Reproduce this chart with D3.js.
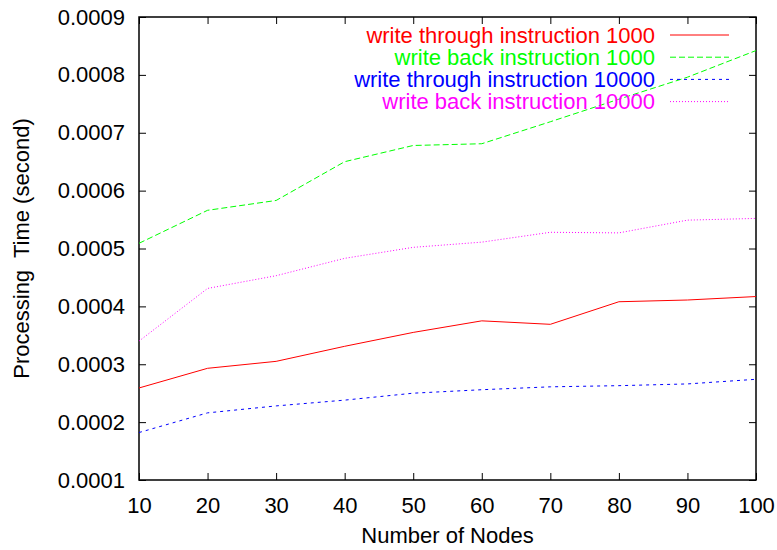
<!DOCTYPE html>
<html>
<head>
<meta charset="utf-8">
<script src="https://cdn.jsdelivr.net/npm/d3@7"></script>
<style>
  body { margin: 0; background: white; }
  text { font-family: "Liberation Sans", Arial, sans-serif; }
</style>
</head>
<body>
<div id="chart"></div>
<script>
let width = 777
let height = 550
let margin = {top: 17, right: 21, bottom: 70, left: 139}

// data
let nodes = [10, 20, 30, 40, 50, 60, 70, 80, 90, 100]
let wtInst1000 = [0.000259, 0.000293, 0.000305, 0.000331, 0.000355, 0.000375, 0.000369, 0.000408, 0.000411, 0.000417]
let wbInst1000 = [0.000509, 0.000566, 0.000583, 0.000650, 0.000678, 0.000681, 0.000719, 0.000758, 0.000796, 0.000842]
let wtInst10000 = [0.000182, 0.000216, 0.000228, 0.000238, 0.000250, 0.000256, 0.000261, 0.000263, 0.000266, 0.000274]
let wbInst10000 = [0.000340, 0.000431, 0.000453, 0.000483, 0.000502, 0.000511, 0.000528, 0.000527, 0.000549, 0.000552]
let yTicks = [0.0001, 0.0002, 0.0003, 0.0004, 0.0005, 0.0006, 0.0007, 0.0008, 0.0009]

let series = [
    {name: "write through instruction 1000", values: wtInst1000, color: "#ff0000", dash: null},
    {name: "write back instruction 1000", values: wbInst1000, color: "#00ff00", dash: "6,3"},
    {name: "write through instruction 10000", values: wtInst10000, color: "#0000ff", dash: "3,4"},
    {name: "write back instruction 10000", values: wbInst10000, color: "#ff00ff", dash: "1,2"}
]

let svg = d3.select("#chart")
    .append("svg")
    .attr("width", width)
    .attr("height", height)

let x = d3.scaleLinear()
    .domain([10, 100])
    .range([margin.left, width - margin.right])
let y = d3.scaleLinear()
    .domain([0.0001, 0.0009])
    .range([height - margin.bottom, margin.top])

let tickLen = 7
let font = 22

// 坐標軸 (ticks inward, mirrored on top/right)
let gx = svg.append("g").attr("transform", `translate(0,${height - margin.bottom})`)
    .call(d3.axisBottom(x).tickValues(nodes).tickSize(-tickLen).tickPadding(tickLen + 10))
let gxTop = svg.append("g").attr("transform", `translate(0,${margin.top})`)
    .call(d3.axisTop(x).tickValues(nodes).tickSize(-tickLen).tickFormat(""))
let gy = svg.append("g").attr("transform", `translate(${margin.left},0)`)
    .call(d3.axisLeft(y).tickValues(yTicks).tickSize(-tickLen).tickPadding(tickLen + 7).tickFormat(d3.format(".4f")))
let gyRight = svg.append("g").attr("transform", `translate(${width - margin.right},0)`)
    .call(d3.axisRight(y).tickValues(yTicks).tickSize(-tickLen).tickFormat(""))

;[gx, gxTop, gy, gyRight].forEach(g => {
    g.select(".domain").remove()
    g.selectAll("line").attr("stroke", "#000")
    g.selectAll("text").attr("fill", "#000").style("font-size", font + "px")
        .style("font-family", "'Liberation Sans', Arial, sans-serif")
})

// frame
svg.append("rect")
    .attr("x", margin.left).attr("y", margin.top)
    .attr("width", width - margin.left - margin.right)
    .attr("height", height - margin.top - margin.bottom)
    .attr("fill", "none").attr("stroke", "#000").attr("stroke-width", 1.5)

let line = d3.line()
    .x((d, i) => x(nodes[i]))
    .y(d => y(d))

svg.append("g").selectAll("path")
    .data(series).join("path")
    .attr("d", d => line(d.values))
    .attr("fill", "none")
    .attr("stroke", d => d.color)
    .attr("stroke-width", 1)
    .attr("stroke-dasharray", d => d.dash)

// legend
let legend = svg.append("g").selectAll("g")
    .data(series).join("g")
    .attr("transform", (d, i) => `translate(0,${35 + i * 22.2})`)
legend.append("text")
    .attr("x", 655).attr("dy", "0.35em")
    .attr("text-anchor", "end")
    .attr("fill", d => d.color)
    .style("font-size", font + "px")
    .text(d => d.name)
legend.append("line")
    .attr("x1", 670).attr("x2", 729)
    .attr("stroke", d => d.color)
    .attr("stroke-width", 1)
    .attr("stroke-dasharray", d => d.dash)

// axis titles
svg.append("text")
    .attr("x", (margin.left + width - margin.right) / 2).attr("y", 543)
    .attr("text-anchor", "middle")
    .style("font-size", font + "px")
    .text("Number of Nodes")
svg.append("text")
    .attr("transform", `translate(29,${(margin.top + height - margin.bottom) / 2}) rotate(-90)`)
    .attr("text-anchor", "middle")
    .style("font-size", font + "px")
    .style("white-space", "pre")
    .text("Processing  Time (second)")
</script>
</body>
</html>
